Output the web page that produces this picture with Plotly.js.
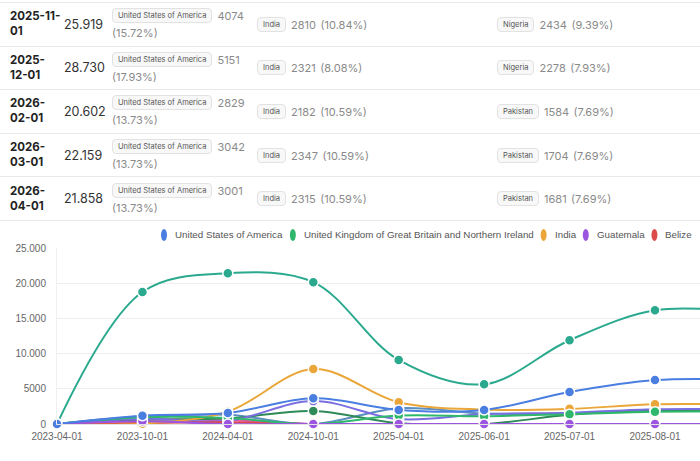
<!DOCTYPE html>
<html>
<head>
<meta charset="utf-8">
<script src="https://cdn.plot.ly/plotly-3.0.1.min.js"></script>
<style>
  html, body { margin: 0; padding: 0; background: #fff; width: 700px; height: 461px; overflow: hidden; }
  #table { position: absolute; left: 0; top: 0; width: 700px; height: 222px; font-family: Inter, "Noto Sans", sans-serif; }
  .row { position: absolute; left: 0; width: 700px; border-top: 1px solid #e9e9e9; box-sizing: border-box; }
  .cell { position: absolute; top: 0; bottom: 0; display: flex; align-items: center; }
  .cell > div { line-height: 15px; }
  .date { font-weight: 700; font-size: 11.5px; color: #222; }
  .total { font-size: 12.5px; color: #333; }
  .val { font-size: 11px; color: #8a8a8a; }
  .badge { display: inline-block; font-size: 7.5px; line-height: 11px; padding: 1px 5px; border: 1px solid #e2e2e2; border-radius: 4px; background: #f8f8f8; color: #555; margin-right: 5px; vertical-align: 2px; }
  #chart { position: absolute; left: 0; top: 222px; width: 700px; height: 239px; }
</style>
</head>
<body>
<div id="table"></div>
<div id="chart"></div>
<script>
// ---------- table data ----------
var rowDates   = ['2025-11-01', '2025-12-01', '2026-02-01', '2026-03-01', '2026-04-01'];
var rowTotals  = ['25.919', '28.730', '20.602', '22.159', '21.858'];
var top1Country = ['United States of America', 'United States of America', 'United States of America', 'United States of America', 'United States of America'];
var top1Value   = [4074, 5151, 2829, 3042, 3001];
var top1Share   = ['15.72%', '17.93%', '13.73%', '13.73%', '13.73%'];
var top2Country = ['India', 'India', 'India', 'India', 'India'];
var top2Value   = [2810, 2321, 2182, 2347, 2315];
var top2Share   = ['10.84%', '8.08%', '10.59%', '10.59%', '10.59%'];
var top3Country = ['Nigeria', 'Nigeria', 'Pakistan', 'Pakistan', 'Pakistan'];
var top3Value   = [2434, 2278, 1584, 1704, 1681];
var top3Share   = ['9.39%', '7.93%', '7.69%', '7.69%', '7.69%'];

// ---------- chart data ----------
var categories = ['2023-04-01', '2023-10-01', '2024-04-01', '2024-10-01', '2025-04-01', '2025-06-01', '2025-07-01', '2025-08-01', '2025-09-01'];
var usaValues       = [0, 1180, 1560, 3650, 2000, 2000, 4550, 6250, 6300];
var ukValues        = [0, 950, 850, 0, 1200, 1100, 1400, 1750, 1750];
var indiaValues     = [0, 50, 1750, 7800, 3100, 2050, 2150, 2800, 2750];
var guatemalaValues = [0, 400, 0, 0, 0, 0, 0, 0, 0];
var belizeValues    = [0, 150, 250, 0, 0, 0, 0, 0, 0];
var otherAValues    = [0, 18750, 21400, 20150, 9100, 5650, 11900, 16150, 15900];
var otherBValues    = [0, 600, 800, 1850, 100, 0, 1300, 1900, 1900];
var otherCValues    = [0, 750, 450, 3250, 700, 1400, 1600, 2100, 2100];
var otherDValues    = [0, 1050, 1300, 0, 2250, 1500, 1500, 2000, 2000];
var otherEValues    = [0, 600, 550, 0, 0, 0, 0, 0, 0];
var yTickVals  = [0, 5000, 10000, 15000, 20000, 25000];
var yTickText  = ['0', '5000', '10.000', '15.000', '20.000', '25.000'];
var legendNames = ['United States of America', 'United Kingdom of Great Britain and Northern Ireland', 'India', 'Guatemala', 'Belize'];

// ---------- build table ----------
(function () {
  var t = document.getElementById('table');
  var c = document.createElement('canvas').getContext('2d');
  c.font = '700 11.5px Inter';
  var dateW = Math.ceil(c.measureText('2025-11-').width) + 1;
  var rowH = 43.6, top0 = 2;
  var lefts = [10, 64, 112, 257, 497];
  var widths = [dateW, 44, 138, 235, 200];
  function cellHTML(country, value, share) {
    return '<span class="badge">' + country + '</span><span class="val">' + value + '</span> <span class="val">(' + share + ')</span>';
  }
  for (var i = 0; i < rowDates.length; i++) {
    var r = document.createElement('div');
    r.className = 'row';
    r.style.top = (top0 + i * rowH) + 'px';
    r.style.height = rowH + 'px';
    var contents = [
      '<div class="date">' + rowDates[i] + '</div>',
      '<div class="total">' + rowTotals[i] + '</div>',
      '<div>' + cellHTML(top1Country[i], top1Value[i], top1Share[i]) + '</div>',
      '<div>' + cellHTML(top2Country[i], top2Value[i], top2Share[i]) + '</div>',
      '<div>' + cellHTML(top3Country[i], top3Value[i], top3Share[i]) + '</div>'
    ];
    for (var k = 0; k < 5; k++) {
      var cell = document.createElement('div');
      cell.className = 'cell';
      cell.style.left = lefts[k] + 'px';
      cell.style.width = widths[k] + 'px';
      cell.innerHTML = contents[k];
      r.appendChild(cell);
    }
    t.appendChild(r);
  }
  var bottom = document.createElement('div');
  bottom.className = 'row';
  bottom.style.top = (top0 + rowDates.length * rowH) + 'px';
  bottom.style.height = '1px';
  t.appendChild(bottom);
})();

// ---------- build chart ----------
function line(name, values, color) {
  return {
    type: 'scatter', mode: 'lines+markers', name: name,
    x: categories, y: values,
    line: { color: color, width: 2, shape: 'spline', smoothing: 1 },
    marker: { color: color, size: 10, line: { color: '#ffffff', width: 1.5 } },
    cliponaxis: false, showlegend: false, hoverinfo: 'x+y+name'
  };
}
var colUSA = '#4a7ee0', colUK = '#2fb86c', colIndia = '#eaa638', colGua = '#9b55e0', colBel = '#dd4a4a';
var legendColors = [colUSA, colUK, colIndia, colGua, colBel];
var traces = [
  line('Other A', otherAValues, '#2aa98e'),
  line('Other E', otherEValues, '#e05aa8'),
  line('Other D', otherDValues, '#5a8fc0'),
  line('Other B', otherBValues, '#2e8b57'),
  line('Other C', otherCValues, '#7a6fe0'),
  line(legendNames[4], belizeValues, colBel),
  line(legendNames[2], indiaValues, colIndia),
  line(legendNames[1], ukValues, colUK),
  line(legendNames[3], guatemalaValues, colGua),
  line(legendNames[0], usaValues, colUSA)
];

// legend: ellipse icons (shapes) + text (annotations), laid out from measured text widths
var ml = 57, plotW = 643, mt = 26, plotH = 176;
var legendSize = 9.75;
var mc = document.createElement('canvas').getContext('2d');
mc.font = legendSize + 'px Arial';
var widthsL = legendNames.map(function (n) { return mc.measureText(n).width; });
var total = 0;
widthsL.forEach(function (w, i) { total += 9 + w + (i < widthsL.length - 1 ? 12 : 0); });
var legendCenterPx = 427;
var cursor = legendCenterPx - total / 2;
var legendY = 1 + (mt - 13) / plotH;
var shapes = [], annotations = [];
function px2paper(px) { return (px - ml) / plotW; }
legendNames.forEach(function (n, i) {
  shapes.push({
    type: 'circle', xref: 'paper', yref: 'paper', xsizemode: 'pixel', ysizemode: 'pixel',
    xanchor: px2paper(cursor), yanchor: legendY, x0: -3, x1: 3, y0: -6, y1: 6,
    fillcolor: legendColors[i], line: { width: 0 }
  });
  annotations.push({
    xref: 'paper', yref: 'paper', x: px2paper(cursor + 9), y: legendY,
    xanchor: 'left', yanchor: 'middle', text: n, showarrow: false,
    font: { family: 'Arial', size: legendSize, color: '#555' }
  });
  cursor += 9 + widthsL[i] + 12;
});

var layout = {
  width: 700, height: 239,
  margin: { l: ml, r: 0, t: mt, b: 37, autoexpand: false },
  paper_bgcolor: '#ffffff', plot_bgcolor: '#ffffff',
  font: { family: 'Arial, "Liberation Sans", sans-serif', size: 10, color: '#6e7079' },
  xaxis: {
    type: 'category', range: [0, 7.527], showgrid: false, zeroline: false,
    showline: true, linecolor: '#e3e3e3', ticks: '', tickfont: { size: 10, color: '#666' },
    ticklabelstandoff: 3, fixedrange: true
  },
  yaxis: {
    range: [0, 25000], tickvals: yTickVals, ticktext: yTickText,
    showgrid: true, gridcolor: '#eeeeee', zeroline: false, showline: true, linecolor: '#f0f0f0',
    tickfont: { size: 10, color: '#666' }, ticks: '', ticklabelstandoff: 8, fixedrange: true
  },
  showlegend: false,
  shapes: shapes,
  annotations: annotations
};
Plotly.newPlot('chart', traces, layout, { displayModeBar: false, staticPlot: true });
</script>
</body>
</html>
